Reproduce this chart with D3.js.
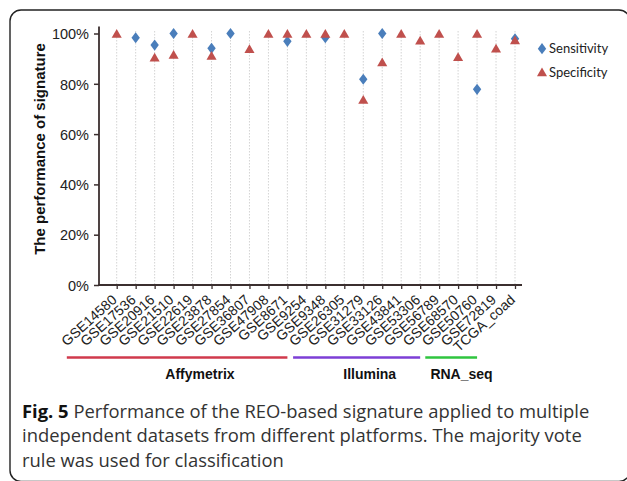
<!DOCTYPE html>
<html><head><meta charset="utf-8">
<script src="https://cdn.jsdelivr.net/npm/d3@7"></script>
<style>
html,body{margin:0;padding:0;background:#fff;}
svg{display:block;}
</style></head>
<body>
<svg id="c" width="627" height="481"></svg>
<script>
const categories = ["GSE14580","GSE17536","GSE20916","GSE21510","GSE22619","GSE23878","GSE27854","GSE36807","GSE47908","GSE8671","GSE9254","GSE9348","GSE26305","GSE31279","GSE33126","GSE43841","GSE53306","GSE56789","GSE68570","GSE50760","GSE72819","TCGA_coad"];
const sensitivity = [null, 0.983, 0.954, 1.00, null, 0.941, 1.00, null, null, 0.969, null, 0.983, null, 0.818, 1.00, null, null, null, null, 0.778, null, 0.979];
const specificity = [1.00, null, 0.906, 0.917, 1.00, 0.913, null, 0.940, 1.00, 1.00, 1.00, 1.00, 1.00, 0.738, 0.887, 1.00, 0.973, 1.00, 0.908, 1.00, 0.942, 0.974];
const yTicks = [0, 0.2, 0.4, 0.6, 0.8, 1.0];
const groupNames = ["Affymetrix", "Illumina", "RNA_seq"];
const groupStart = [-2.63, 9.3, 16.27];   // in category-index units
const groupEnd = [9, 16, 19];
const groupLabelAt = [4.39, 13.34, 18.18];
const groupColors = ["#d03a4c", "#7d3fd6", "#2fc53f"];
const seriesNames = ["Sensitivity", "Specificity"];
const captionLines = [
  [["Fig. 5", true], [" Performance of the REO-based signature applied to multiple", false]],
  [["independent datasets from different platforms. The majority vote", false]],
  [["rule was used for classification", false]]
];

const svg = d3.select("#c");
const blue = "#4a7ebb", red = "#c0504d", axisCol = "#3b2f2f";

// frame
svg.append("rect").attr("x",10).attr("y",10).attr("width",620).attr("height",471.5)
  .attr("rx",11).attr("fill","none").attr("stroke","#222").attr("stroke-width",1.4);

const x = d3.scalePoint().domain(categories).range([116.7, 515]);
const xi = d3.scaleLinear().domain([0, categories.length-1]).range([116.7, 515]);
const y = d3.scaleLinear().domain([0,1]).range([285, 33.5]);

// gridlines
svg.append("g").selectAll("line").data(categories).join("line")
  .attr("x1", d=>x(d)).attr("x2", d=>x(d)).attr("y1", 31).attr("y2", 285)
  .attr("stroke","#c8c8c8").attr("stroke-width",0.8).attr("stroke-dasharray","1.5,1.5");

// y axis
const yAx = svg.append("g").attr("transform","translate(99,0)")
  .call(d3.axisLeft(y).tickValues(yTicks).tickFormat(d3.format(".0%")).tickSize(5).tickSizeOuter(0));
yAx.select(".domain").remove();
yAx.selectAll(".tick line").attr("stroke",axisCol).attr("stroke-width",1.5);
yAx.selectAll(".tick text").attr("font-family","Liberation Sans, Arial, sans-serif").attr("font-size",14.5).attr("fill","#222").attr("x",-10).attr("dy","0.36em");
svg.append("line").attr("x1",99).attr("x2",99).attr("y1",26.5).attr("y2",285.8).attr("stroke",axisCol).attr("stroke-width",1.8);

// x axis
const xAx = svg.append("g").attr("transform","translate(0,285)")
  .call(d3.axisBottom(x).tickSize(4).tickSizeOuter(0));
xAx.select(".domain").remove();
xAx.selectAll(".tick line").attr("stroke",axisCol).attr("stroke-width",1.3);
xAx.selectAll(".tick text").remove();
svg.append("line").attr("x1",98.2).attr("x2",522).attr("y1",285).attr("y2",285).attr("stroke",axisCol).attr("stroke-width",1.8);

svg.append("g").selectAll("text").data(categories).join("text")
  .attr("transform", d=>`translate(${x(d)+1},${301}) rotate(-42)`)
  .attr("text-anchor","end").attr("font-family","Liberation Sans, Arial, sans-serif")
  .attr("font-size",14).attr("fill","#222").text(d=>d);

// y title
svg.append("text").attr("transform","translate(45,149) rotate(-90)")
  .attr("text-anchor","middle").attr("font-family","Liberation Sans, Arial, sans-serif")
  .attr("font-weight","bold").attr("font-size",15).attr("fill","#111")
  .text("The performance of signature");

// group lines
groupNames.forEach((g,i)=>{
  svg.append("line").attr("x1", xi(groupStart[i])).attr("x2", xi(groupEnd[i]))
    .attr("y1",357.5).attr("y2",357.5).attr("stroke",groupColors[i]).attr("stroke-width",2.6);
  svg.append("text").attr("x", xi(groupLabelAt[i])).attr("y",379)
    .attr("text-anchor","middle").attr("font-family","Liberation Sans, Arial, sans-serif")
    .attr("font-weight","bold").attr("font-size",14).attr("fill","#111").text(g);
});

// markers
const diamond = d3.symbol().type(d3.symbolDiamond).size(36);
const tri = d3.symbol().type(d3.symbolTriangle).size(44);
svg.append("g").selectAll("path").data(categories.map((c,i)=>({c,v:sensitivity[i]})).filter(d=>d.v!=null))
  .join("path").attr("d", diamond).attr("fill", blue)
  .attr("transform", d=>`translate(${x(d.c)},${y(d.v)}) scale(1.3,1)`);
svg.append("g").selectAll("path").data(categories.map((c,i)=>({c,v:specificity[i]})).filter(d=>d.v!=null))
  .join("path").attr("d", tri).attr("fill", red)
  .attr("transform", d=>`translate(${x(d.c)},${y(d.v)+1.4})`);

// legend
const lg = svg.append("g");
lg.append("path").attr("d", diamond).attr("fill", blue).attr("transform","translate(542,48.7) scale(1.3,1)");
lg.append("path").attr("d", tri).attr("fill", red).attr("transform","translate(542,73.4)");
seriesNames.forEach((s,i)=>{
  lg.append("text").attr("x",549).attr("y",48.7 + i*23.5).attr("dy","0.35em")
    .attr("font-family","Lato, Open Sans, sans-serif").attr("font-size",13).attr("fill","#222").text(s);
});

// caption
captionLines.forEach((line,i)=>{
  const t = svg.append("text").attr("x",22).attr("y",417.5 + i*24.5)
    .attr("font-family","Open Sans, sans-serif").attr("font-size",18.4).attr("fill","#222");
  line.forEach(([txt,b])=>{
    t.append("tspan").attr("font-weight", b?"bold":"normal").attr("fill", b?"#111":"#333").text(txt);
  });
});
</script>
</body></html>
